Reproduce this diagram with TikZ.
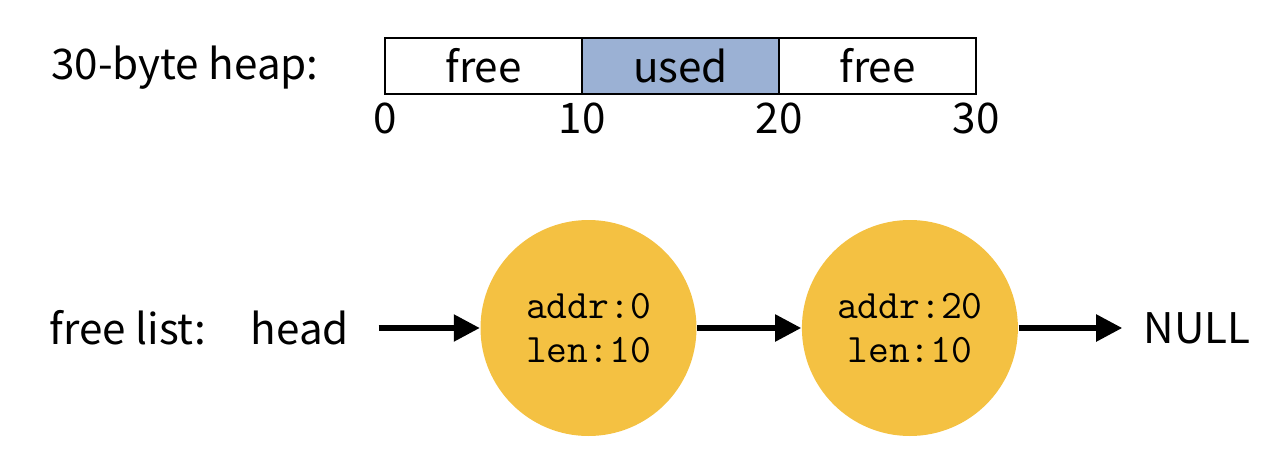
\documentclass[tikz,border=0pt]{standalone}
\usepackage{fontspec}
\setmainfont{Noto Sans CJK KR}
\usepackage{xcolor}
\usetikzlibrary{arrows.meta, positioning}
\definecolor{usedblue}{HTML}{9BB1D4}
\definecolor{nodegold}{HTML}{F4C142}
\def\cd#1{{\ttfamily #1}}

\begin{document}
\begin{tikzpicture}[
    font=\fontsize{12}{14}\selectfont,
    cell/.style={draw, line width=0.8pt, minimum width=1.97cm, minimum height=0.56cm, inner sep=0pt, outer sep=0pt},
    blk/.style={circle, fill=nodegold, minimum size=2.16cm, inner sep=0pt, align=center, font=\fontsize{11.5}{12.5}\selectfont},
    link/.style={line width=1.5pt, -{Triangle[length=0.26cm, width=0.26cm]}}
  ]
  \useasboundingbox (0,0) rectangle (12.78,4.64);
  % heap
  \node (hlabel) at (1.85,3.96) {30-byte heap:};
  \node[cell] (f1) at (4.835,3.98) {free};
  \node[cell, fill=usedblue, right=0pt of f1] (u1) {used};
  \node[cell, right=0pt of u1] (f2) {free};
  \node[below=-0.04cm of f1.south west] (a0) {0};
  \node[below=-0.04cm of f1.south east] (a10) {10};
  \node[below=-0.04cm of u1.south east] (a20) {20};
  \node[below=-0.04cm of f2.south east] (a30) {30};
  % free list
  \node (llabel) at (1.28,1.36) {free list:};
  \node (head) at (3.00,1.36) {head};
  \node[blk] (c1) at (5.885,1.36) {\cd{addr:0}\\\cd{len:10}};
  \node[blk, right=1.04cm of c1] (c2) {\cd{addr:20}\\\cd{len:10}};
  \node (null) at (11.97,1.36) {NULL};
  \draw[link, shorten <=0.17cm] (head) -- (c1);
  \draw[link] (c1) -- (c2);
  \draw[link, shorten >=0.09cm] (c2) -- (null);
\end{tikzpicture}
\end{document}
